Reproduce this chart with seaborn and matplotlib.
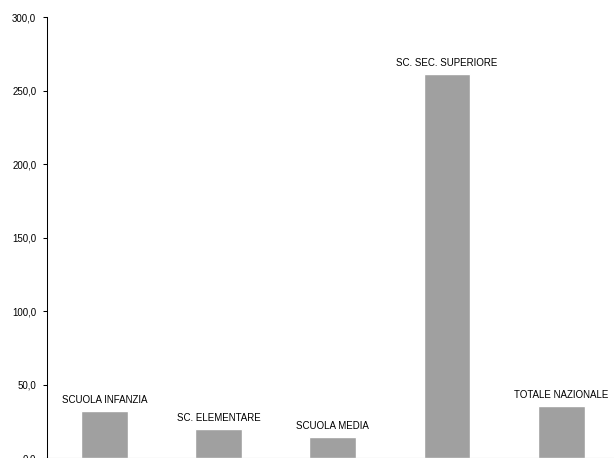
import matplotlib
matplotlib.use("Agg")
import matplotlib.pyplot as plt
import seaborn as sns
import pandas as pd
from matplotlib.ticker import FuncFormatter

# Values
categorie = ['SCUOLA INFANZIA', 'SC. ELEMENTARE', 'SCUOLA MEDIA',
             'SC. SEC. SUPERIORE', 'TOTALE NAZIONALE']
valori = [31.8, 19.6, 14.4, 261.5, 35.3]
y_ticks = [0, 50, 100, 150, 200, 250, 300]

df = pd.DataFrame({'categoria': categorie, 'valore': valori})

sns.set_style('ticks')
plt.rcParams['font.family'] = ['Liberation Sans', 'DejaVu Sans']

fig = plt.figure(figsize=(6.14, 4.58), dpi=100)
ax = fig.add_axes([47.3 / 614, -0.1 / 458, 571 / 614, 440.8 / 458])

sns.barplot(data=df, x='categoria', y='valore', color='#A0A0A0',
            saturation=1, width=0.41, ax=ax)

# category names as labels above the bars
ax.bar_label(ax.containers[0], labels=categorie, padding=4.5,
             fontsize=7, color='black')

ax.set_ylim(0, 300)
ax.set_xlim(-0.5, 4.5)
ax.set_yticks(y_ticks)
ax.yaxis.set_major_formatter(FuncFormatter(lambda v, p: f'{v:.1f}'.replace('.', ',')))
ax.set_xticks([0.5, 1.5, 2.5, 3.5])
ax.set_xticklabels([])
ax.tick_params(axis='y', labelsize=7, length=3, width=0.75, pad=5, colors='black')
ax.tick_params(axis='x', length=3, width=0.75)
ax.set_xlabel('')
ax.set_ylabel('')

sns.despine(ax=ax)
for s in ['left', 'bottom']:
    ax.spines[s].set_linewidth(0.75)
    ax.spines[s].set_color('black')

fig.savefig('out.png', dpi=100)
